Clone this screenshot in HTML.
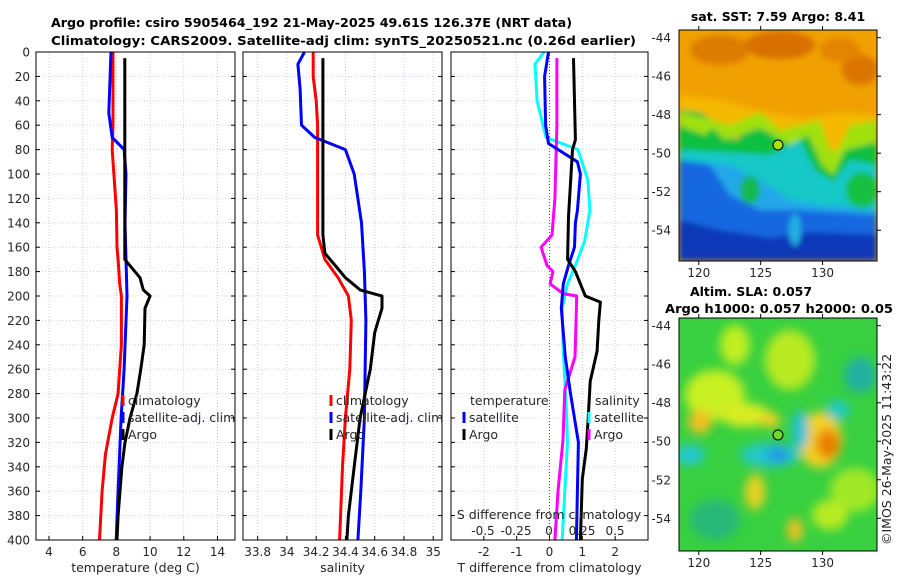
<!DOCTYPE html>
<html><head><meta charset="utf-8"><style>
body{margin:0;background:#fff;}
svg{display:block;font-family:"DejaVu Sans","Liberation Sans",sans-serif;}
</style></head><body>
<svg id="c" width="900" height="580" viewBox="0 0 900 580" xmlns="http://www.w3.org/2000/svg">
<defs>
<filter id="bl" x="-20%" y="-20%" width="140%" height="140%"><feGaussianBlur stdDeviation="3"/></filter>
<filter id="bl2" x="-30%" y="-30%" width="160%" height="160%"><feGaussianBlur stdDeviation="5"/></filter>
<clipPath id="cm1"><rect x="679" y="30" width="198" height="231"/></clipPath>
<clipPath id="cm2"><rect x="679" y="318" width="198" height="233"/></clipPath>
<clipPath id="cp1"><rect x="36" y="52" width="199" height="488"/></clipPath>
<clipPath id="cp2"><rect x="243" y="52" width="199" height="488"/></clipPath>
<clipPath id="cp3"><rect x="451" y="52" width="197" height="488"/></clipPath>
</defs>
<g font-weight="bold" font-size="12.5" fill="#000">
<text x="51" y="27" textLength="521" lengthAdjust="spacingAndGlyphs">Argo profile: csiro 5905464_192 21-May-2025 49.61S 126.37E (NRT data)</text>
<text x="51" y="45" textLength="585" lengthAdjust="spacingAndGlyphs">Climatology: CARS2009. Satellite-adj clim: synTS_20250521.nc (0.26d earlier)</text>
</g>
<g clip-path="url(#cm1)">
<rect x="679" y="30" width="198" height="231" fill="#f0a000"/>
<g filter="url(#bl)">
<ellipse cx="720" cy="50" rx="30" ry="15" fill="#de7e00"/>
<ellipse cx="780" cy="45" rx="35" ry="14" fill="#d87000"/>
<ellipse cx="860" cy="70" rx="18" ry="15" fill="#dc7400"/>
<ellipse cx="840" cy="50" rx="20" ry="12" fill="#e28400"/>
<path d="M679 95 L720 100 L760 110 L800 118 L840 112 L877 115 L877 150 L679 150Z" fill="#f5b800"/>
<path d="M679 110 L700 112 L720 125 L735 140 L760 120 L790 140 L810 130 L825 160 L832 170 L850 140 L877 132 L877 261 L679 261Z" fill="#10c040"/>
<path d="M679 125 L690 130 L705 135 L712 128 L725 140 L760 128 L790 145 L808 135 L822 165 L833 175 L845 150 L877 142 L877 120 L850 125 L838 150 L830 150 L820 120 L800 125 L780 130 L760 112 L730 125 L705 118 L679 112Z" fill="#a0e010"/>
<path d="M679 150 L720 152 L770 155 L800 140 L815 170 L833 182 L850 160 L877 165 L877 261 L679 261Z" fill="#18c8c8"/>
<path d="M679 160 L730 165 L760 180 L790 200 L820 205 L877 210 L877 261 L679 261Z" fill="#20a8e8"/>
<path d="M679 160 L710 165 L730 195 L760 210 L800 210 L877 215 L877 261 L679 261Z" fill="#1868e0"/>
<path d="M679 220 L720 230 L770 238 L810 232 L877 235 L877 261 L679 261Z" fill="#0838b8"/>
<ellipse cx="750" cy="190" rx="10" ry="14" fill="#18b850"/>
<ellipse cx="862" cy="190" rx="16" ry="18" fill="#18c040"/>
<ellipse cx="795" cy="230" rx="6" ry="16" fill="#20b0e0"/>
</g>
</g>
<rect x="679" y="30" width="198" height="231" fill="none" stroke="#000"/>
<circle cx="778" cy="145" r="5" fill="#a8e000" stroke="#000"/>
<text x="778" y="21" text-anchor="middle" font-weight="bold" font-size="12.5">sat. SST: 7.59 Argo: 8.41</text>
<g clip-path="url(#cm2)">
<rect x="679" y="318" width="198" height="233" fill="#38d040"/>
<g filter="url(#bl2)">
<ellipse cx="715" cy="395" rx="30" ry="25" fill="#c8f020"/>
<ellipse cx="700" cy="422" rx="12" ry="12" fill="#f0c020"/>
<ellipse cx="745" cy="415" rx="25" ry="12" fill="#d8ec20"/>
<ellipse cx="770" cy="420" rx="10" ry="8" fill="#f0d020"/>
<ellipse cx="790" cy="360" rx="25" ry="30" fill="#b8ea20"/>
<ellipse cx="735" cy="345" rx="15" ry="20" fill="#c0ee20"/>
<ellipse cx="820" cy="440" rx="22" ry="28" fill="#f4d020"/>
<ellipse cx="828" cy="444" rx="12" ry="15" fill="#e88000"/>
<ellipse cx="770" cy="455" rx="30" ry="12" fill="#20c8c8"/>
<ellipse cx="778" cy="455" rx="12" ry="8" fill="#2098e8"/>
<ellipse cx="800" cy="430" rx="8" ry="20" fill="#20c0d8"/>
<ellipse cx="838" cy="410" rx="12" ry="10" fill="#20c8c0"/>
<ellipse cx="690" cy="455" rx="15" ry="10" fill="#20c8d0"/>
<ellipse cx="755" cy="492" rx="10" ry="18" fill="#e8d020"/>
<ellipse cx="795" cy="530" rx="8" ry="12" fill="#f0c020"/>
<ellipse cx="860" cy="375" rx="16" ry="18" fill="#20b0a0"/>
<ellipse cx="855" cy="490" rx="25" ry="22" fill="#a0e828"/>
<ellipse cx="715" cy="520" rx="25" ry="20" fill="#28b878"/>
<ellipse cx="830" cy="515" rx="18" ry="15" fill="#b8ea20"/>
</g>
</g>
<rect x="679" y="318" width="198" height="233" fill="none" stroke="#000"/>
<circle cx="778" cy="435" r="5" fill="#70d828" stroke="#000"/>
<g font-weight="bold" font-size="12.5" text-anchor="middle">
<text x="751" y="296">Altim. SLA: 0.057</text>
<text x="779" y="313" textLength="228" lengthAdjust="spacingAndGlyphs">Argo h1000: 0.057 h2000: 0.05</text>
</g>
<text transform="translate(891,545) rotate(-90)" font-size="12.5" fill="#222">©IMOS 26-May-2025 11:43:22</text>
<g id="plots"></g>
</svg>
<script>
// ---- data ----
const tempArgoDepth=[5,60,120,170,185,195,200,210,240,260,280,300,320,340,380,400];
const tempArgo=[8.5,8.5,8.5,8.5,9.4,9.6,10.0,9.7,9.65,9.45,9.22,8.81,8.51,8.33,8.1,8.04];
const tempClimDepth=[0,60,80,130,160,170,190,200,240,260,280,300,330,360,400];
const tempClim=[7.8,7.8,7.75,8.0,8.04,8.1,8.2,8.3,8.3,8.2,8.1,7.75,7.35,7.15,7.0];
const tempSatDepth=[0,50,70,80,100,140,200,260,300,360,400];
const tempSat=[7.68,7.55,7.75,8.46,8.57,8.51,8.63,8.46,8.28,8.1,7.99];
const salArgoDepth=[5,150,165,175,185,195,200,210,230,260,300,340,380,400];
const salArgo=[34.246,34.246,34.26,34.33,34.40,34.50,34.65,34.65,34.60,34.57,34.50,34.46,34.42,34.41];
const salClimDepth=[0,20,40,60,80,150,170,185,200,220,260,300,340,400];
const salClim=[34.18,34.18,34.20,34.21,34.21,34.21,34.26,34.35,34.42,34.44,34.43,34.40,34.38,34.36];
const salSatDepth=[0,10,30,60,70,80,100,140,180,220,300,360,400];
const salSat=[34.12,34.075,34.09,34.10,34.19,34.40,34.46,34.51,34.53,34.54,34.53,34.505,34.485];
const dTArgoDepth=[5,72,80,135,170,180,200,205,220,245,270,300,325,350,400];
const dTArgo=[0.73,0.79,0.70,0.58,0.55,0.79,1.09,1.55,1.5,1.45,1.24,1.18,1.12,1.0,0.94];
const dTSatDepth=[0,20,60,75,90,100,130,140,160,175,190,210,250,280,320,360,400];
const dTSat=[-0.03,-0.15,-0.12,-0.03,0.85,0.94,0.85,0.79,0.76,0.58,0.42,0.36,0.48,0.64,0.88,0.85,0.82];
const dSSatDepth=[0,10,40,70,80,105,130,155,175,190,210,240,290,320,360,400];
const dSSat=[-0.038,-0.106,-0.09,-0.023,0.22,0.295,0.31,0.27,0.20,0.14,0.10,0.106,0.13,0.14,0.12,0.10];
const dSArgoDepth=[5,60,120,150,160,175,180,190,198,200,220,250,277,318,360,400];
const dSArgo=[0.06,0.06,0.045,0.023,-0.06,-0.015,0.03,0.008,0.106,0.21,0.205,0.197,0.12,0.106,0.068,0.045];
const depthTicks=[0,20,40,60,80,100,120,140,160,180,200,220,240,260,280,300,320,340,360,380,400];
const tTicks=[4,6,8,10,12,14];
const sTicks=[33.8,34,34.2,34.4,34.6,34.8,35];
const dTTicks=[-2,-1,0,1,2];
const dSTickLabels=["-0.5","-0.25","0","0.25","0.5"];
const dSTicks=[-0.5,-0.25,0,0.25,0.5];
const latTicks=[-44,-46,-48,-50,-52,-54];
const lonTicks=[120,125,130];

const NS='http://www.w3.org/2000/svg';
const root=document.getElementById('plots');
function el(tag,attrs,parent,txt){const e=document.createElementNS(NS,tag);for(const k in attrs)e.setAttribute(k,attrs[k]);if(txt!==undefined)e.textContent=txt;(parent||root).appendChild(e);return e;}
const Y0=52,Y1=540;
const yD=d=>Y0+(d/400)*(Y1-Y0);
function panel(x0,x1,xmin,xmax,name){return {x0,x1,x:v=>x0+(v-xmin)/(xmax-xmin)*(x1-x0),name};}
const P1=panel(36,235,3.23,15.04,'temperature');
const P2=panel(243,442,33.70,35.06,'salinity');
const P3=panel(451,648,-3,3,'t-difference');
const xS=v=>549+v*132;

function frame(P,ticks,labels,clip,title){
  const g=el('g',{});
  
  
  ticks.forEach(t=>{const x=P.x(t);el('line',{x1:x,x2:x,y1:Y0,y2:Y1,stroke:'#d9b8c8','stroke-width':0.8,'stroke-dasharray':'1,2'},g);});
  depthTicks.forEach(d=>{const y=yD(d);el('line',{x1:P.x0,x2:P.x1,y1:y,y2:y,stroke:'#c0c8e8','stroke-width':0.8,'stroke-dasharray':'1,2'},g);
    el('line',{x1:P.x0,x2:P.x0+4,y1:y,y2:y,stroke:'#000'},g);el('line',{x1:P.x1-4,x2:P.x1,y1:y,y2:y,stroke:'#000'},g);});
  ticks.forEach((t,i)=>{const x=P.x(t);el('line',{x1:x,x2:x,y1:Y1,y2:Y1-4,stroke:'#000'},g);
    const tl=el('text',{x:x,y:Y1+16,'text-anchor':'middle','font-size':12,fill:'#262626'},g,labels[i]);
    
    });
  const t=el('text',{x:(P.x0+P.x1)/2,y:572,'text-anchor':'middle','font-size':12.5,fill:'#262626'},g,title);
  
  
  return g;
}
function line(P,xf,depths,vals,color,clip,name){
  const pts=depths.map((d,i)=>xf(vals[i]).toFixed(1)+','+yD(d).toFixed(1)).join(' ');
  const p=el('polyline',{points:pts,fill:'none',stroke:color,'stroke-width':3,'stroke-linejoin':'round','clip-path':'url(#'+clip+')'});
  
  
}
function box(P){const r=el('rect',{x:P.x0,y:Y0,width:P.x1-P.x0,height:Y1-Y0,fill:'none',stroke:'#000'});}

frame(P1,tTicks,tTicks.map(String),'cp1','temperature (deg C)');
frame(P2,sTicks,sTicks.map(String),'cp2','salinity');
frame(P3,dTTicks,dTTicks.map(String),'cp3','T difference from climatology');

depthTicks.forEach(d=>{const t=el('text',{x:30,y:yD(d)+4.5,'text-anchor':'end','font-size':12,fill:'#262626'},root,String(d));
  
  });

el('line',{x1:P3.x(0),x2:P3.x(0),y1:Y0,y2:Y1,stroke:'#5a5a30','stroke-width':1,'stroke-dasharray':'1,2'});

line(P1,P1.x,tempClimDepth,tempClim,'#ff0000','cp1','temp-climatology-line');
line(P1,P1.x,tempSatDepth,tempSat,'#0000ff','cp1','temp-satellite-line');
line(P1,P1.x,tempArgoDepth,tempArgo,'#000000','cp1','temp-argo-line');
line(P2,P2.x,salClimDepth,salClim,'#ff0000','cp2','sal-climatology-line');
line(P2,P2.x,salSatDepth,salSat,'#0000ff','cp2','sal-satellite-line');
line(P2,P2.x,salArgoDepth,salArgo,'#000000','cp2','sal-argo-line');
line(P3,xS,dSSatDepth,dSSat,'#00ffff','cp3','s-diff-satellite-line');
line(P3,xS,dSArgoDepth,dSArgo,'#ff00ff','cp3','s-diff-argo-line');
line(P3,P3.x,dTSatDepth,dTSat,'#0000ff','cp3','t-diff-satellite-line');
line(P3,P3.x,dTArgoDepth,dTArgo,'#000000','cp3','t-diff-argo-line');

const st=el('text',{x:549,y:519,'text-anchor':'middle','font-size':12.5,fill:'#262626'},root,'S difference from climatology');


dSTicks.forEach((v,i)=>{const t=el('text',{x:xS(v),y:535,'text-anchor':'middle','font-size':12,fill:'#262626'},root,dSTickLabels[i]);
  
  });

box(P1);box(P2);box(P3);

function legend(x,y,color,label,clip,name){
  const g=el('g',{'clip-path':clip?'url(#'+clip+')':''});
  
  
  el('rect',{x:x-1.5,y:y-10,width:3,height:11,fill:color},g);
  el('text',{x:x+5,y:y,'font-size':12.5,fill:'#262626'},g,label);
}
legend(123,405,'#ff0000','climatology','cp1','legend-climatology');
legend(123,422,'#0000ff','satellite-adj. clim','cp1','legend-satellite');
legend(123,439,'#000000','Argo','cp1','legend-argo');
legend(331,405,'#ff0000','climatology','cp2','legend-sal-climatology');
legend(331,422,'#0000ff','satellite-adj. clim','cp2','legend-sal-satellite');
legend(331,439,'#000000','Argo','cp2','legend-sal-argo');
const lt=el('text',{x:470,y:405,'font-size':12.5,fill:'#262626'},root,'temperature');


const ls=el('text',{x:595,y:405,'font-size':12.5,fill:'#262626'},root,'salinity');


legend(464,422,'#0000ff','satellite','cp3','legend-t-satellite');
legend(464,439,'#000000','Argo','cp3','legend-t-argo');
legend(589,422,'#00ffff','satellite','cp3','legend-s-satellite');
legend(589,439,'#ff00ff','Argo','cp3','legend-s-argo');

function mapAxes(x0,x1,y0,y1,latTop,latBot,name){
  const lonMin=118.4,lonMax=134.4;
  const lx=v=>x0+(v-lonMin)/(lonMax-lonMin)*(x1-x0);
  const ly=v=>y0+(latTop-v)/(latTop-latBot)*(y1-y0);
  latTicks.forEach(v=>{const y=ly(v);
    el('line',{x1:x1,x2:x1+4,y1:y,y2:y,stroke:'#000'});
    const t=el('text',{x:x0-8,y:y+4.5,'text-anchor':'end','font-size':12,fill:'#262626'},root,String(v));
    
    });
  lonTicks.forEach(v=>{const x=lx(v);el('line',{x1:x,x2:x,y1:y1,y2:y1+4,stroke:'#000'});el('line',{x1:x,x2:x,y1:y0,y2:y0-4,stroke:'#000'});
    const t=el('text',{x:x,y:y1+16,'text-anchor':'middle','font-size':12,fill:'#262626'},root,String(v));
    
    });
}
mapAxes(679,877,30,261,-43.6,-55.6,'sst-map');
mapAxes(679,877,318,551,-43.6,-55.7,'sla-map');
</script>
</body></html>
